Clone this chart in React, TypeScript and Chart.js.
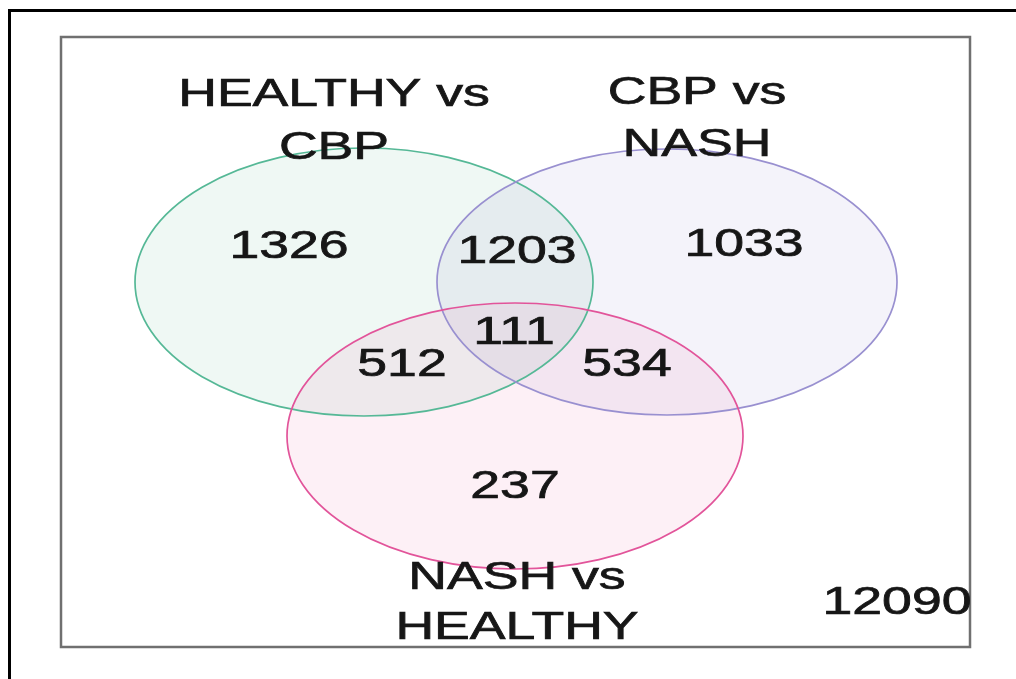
import React, { useEffect, useRef } from "react";
import { Chart, registerables } from "chart.js";

Chart.register(...registerables);

// Sets (circles of the Venn diagram), in diagram units (box = 909 x 610)
const setLabels = [["HEALTHY vs", "CBP"], ["CBP vs", "NASH"], ["NASH vs", "HEALTHY"]];
const setCenterX = [303, 606, 454];
const setCenterY = [245, 245, 399];
const setRadiusX = [229, 230, 228];
const setRadiusY = [134, 133, 133];
const setStroke = ["#55b896", "#9990d0", "#e2549a"];
const setFill = ["rgba(70,170,130,0.085)", "rgba(110,100,185,0.075)", "rgba(230,80,150,0.085)"];
const setLabelX = [273, 636, 456];
const setLabelY = [[59, 112], [57, 109], [542, 592]];

// Region counts
const regionValues = [1326, 1203, 1033, 111, 512, 534, 237, 12090];
const regionX = [228, 456, 683, 453, 341, 566, 454, 836];
const regionY = [211, 216, 209, 297, 329, 329, 451, 567];

const FONT = "38px 'Liberation Sans', Arial, Helvetica, sans-serif";
const STRETCH = 1.41;

function drawStretchedText(ctx: CanvasRenderingContext2D, text: string, x: number, y: number) {
  ctx.save();
  ctx.translate(x, y);
  ctx.scale(STRETCH, 1);
  ctx.strokeText(text, 0, 0);
  ctx.fillText(text, 0, 0);
  ctx.restore();
}

const vennPlugin = {
  id: "venn",
  beforeDraw(chart: any) {
    const ctx = chart.ctx as CanvasRenderingContext2D;
    ctx.save();
    ctx.fillStyle = "#ffffff";
    ctx.fillRect(0, 0, chart.width, chart.height);
    // outer black frame
    ctx.strokeStyle = "#000000";
    ctx.lineWidth = 3;
    ctx.beginPath();
    ctx.moveTo(9.5, chart.height);
    ctx.lineTo(9.5, 10.5);
    ctx.lineTo(chart.width, 10.5);
    ctx.stroke();
    ctx.restore();
  },
  afterDatasetsDraw(chart: any) {
    const ctx = chart.ctx as CanvasRenderingContext2D;
    const xs = chart.scales.x;
    const ys = chart.scales.y;
    const area = chart.chartArea;
    ctx.save();
    // gray box
    ctx.strokeStyle = "#707070";
    ctx.lineWidth = 2.5;
    ctx.strokeRect(area.left, area.top, area.right - area.left, area.bottom - area.top);

    const shapes = setCenterX.map((cx, i) => {
      const px = xs.getPixelForValue(cx);
      const py = ys.getPixelForValue(setCenterY[i]);
      const rx = Math.abs(xs.getPixelForValue(cx + setRadiusX[i]) - px);
      const ry = Math.abs(ys.getPixelForValue(setCenterY[i] + setRadiusY[i]) - py);
      return { px, py, rx, ry };
    });
    shapes.forEach((s, i) => {
      ctx.beginPath();
      ctx.ellipse(s.px, s.py, s.rx, s.ry, 0, 0, Math.PI * 2);
      ctx.fillStyle = setFill[i];
      ctx.fill();
    });
    shapes.forEach((s, i) => {
      ctx.beginPath();
      ctx.ellipse(s.px, s.py, s.rx, s.ry, 0, 0, Math.PI * 2);
      ctx.strokeStyle = setStroke[i];
      ctx.lineWidth = 1.7;
      ctx.stroke();
    });

    // texts
    ctx.fillStyle = "#161616";
    ctx.strokeStyle = "#161616";
    ctx.lineWidth = 0.7;
    ctx.font = FONT;
    ctx.textAlign = "center";
    ctx.textBaseline = "middle";
    setLabels.forEach((lines, i) => {
      lines.forEach((line, j) => {
        drawStretchedText(ctx, line, xs.getPixelForValue(setLabelX[i]), ys.getPixelForValue(setLabelY[i][j]));
      });
    });
    const meta = chart.getDatasetMeta(0);
    meta.data.forEach((el: any, i: number) => {
      drawStretchedText(ctx, String(regionValues[i]), el.x, el.y);
    });
    ctx.restore();
  },
};

export default function App() {
  const canvasRef = useRef<HTMLCanvasElement | null>(null);

  useEffect(() => {
    if (!canvasRef.current) return;
    const chart = new Chart(canvasRef.current, {
      type: "scatter",
      data: {
        datasets: [
          {
            label: "regions",
            data: regionValues.map((v, i) => ({ x: regionX[i], y: regionY[i] })),
            pointRadius: 0,
            pointHoverRadius: 0,
          },
        ],
      },
      options: {
        responsive: true,
        maintainAspectRatio: false,
        animation: false,
        layout: { padding: { left: 61, top: 37, right: 46, bottom: 32 } },
        plugins: { legend: { display: false }, tooltip: { enabled: false } },
        scales: {
          x: { type: "linear", min: 0, max: 909, display: false },
          y: { type: "linear", min: 0, max: 610, reverse: true, display: false },
        },
      },
      plugins: [vennPlugin],
    });
    return () => chart.destroy();
  }, []);

  return (
    <div style={{ position: "absolute", left: 0, top: 0, width: 1016, height: 679, background: "#fff" }}>
      <canvas ref={canvasRef} />
    </div>
  );
}
